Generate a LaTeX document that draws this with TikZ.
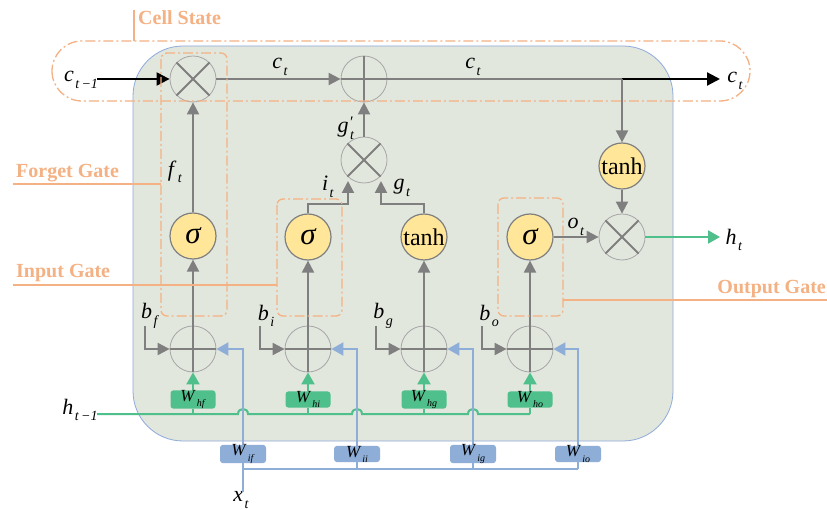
\documentclass[tikz,border=0pt]{standalone}
\usepackage{fontspec}
\setmainfont{Liberation Serif}
\usetikzlibrary{arrows.meta}
\definecolor{bgc}{HTML}{E2E7DE}
\definecolor{bgline}{HTML}{8EAADB}
\definecolor{org}{HTML}{F4B183}
\definecolor{gline}{HTML}{7F7F7F}
\definecolor{opc}{HTML}{A6A6A6}
\definecolor{grn}{HTML}{4FBF8B}
\definecolor{blu}{HTML}{8EAED8}
\definecolor{yel}{HTML}{FFE699}
\newcommand{\vv}[2]{\textit{#1}\kern1.5pt\raisebox{-0.3em}{\fontsize{14}{14}\selectfont\textit{#2}}}
\newcommand{\ww}[2]{\textit{#1}\kern1pt\raisebox{-0.3em}{\fontsize{10}{10}\selectfont\textit{#2}}}
\begin{document}
\begin{tikzpicture}[x=1pt,y=-1pt,
  op/.style={circle, draw=opc, line width=0.8pt, minimum size=46pt, inner sep=0pt},
  act/.style={circle, draw=gline, fill=yel, line width=1.2pt, minimum size=46pt, inner sep=0pt},
  crs/.style={draw=gline, line width=2pt},
  garr/.style={draw=gline, line width=2pt, -{Triangle[length=12pt,width=12pt]}},
  gln/.style={draw=gline, line width=2pt},
  karr/.style={draw=black, line width=2.2pt, -{Triangle[length=13pt,width=13pt]}},
  grarr/.style={draw=grn, line width=2pt, -{Triangle[length=12pt,width=13pt]}},
  grln/.style={draw=grn, line width=2pt},
  blarr/.style={draw=blu, line width=2pt, -{Triangle[length=12pt,width=13pt]}},
  blln/.style={draw=blu, line width=2pt},
  wh/.style={fill=grn, rounded corners=3pt, minimum width=45pt, minimum height=15pt, inner sep=0pt, font=\fontsize{17}{17}\selectfont},
  wi/.style={fill=blu, rounded corners=3pt, minimum width=46pt, minimum height=16pt, inner sep=0pt, font=\fontsize{17}{17}\selectfont},
  lbl/.style={inner sep=0pt, font=\fontsize{22}{22}\selectfont},
  gate/.style={draw=org, line width=1.3pt, dash pattern=on 10pt off 3pt on 2pt off 3pt, rounded corners=6pt},
  oline/.style={draw=org, line width=1.6pt},
  otext/.style={text=org, inner sep=0pt, font=\fontsize{20}{20}\selectfont\bfseries},
  sig/.style={act, font=\fontsize{31}{31}\selectfont\itshape},
  th/.style={act, font=\fontsize{24}{24}\selectfont}
]
\useasboundingbox (0,0) rectangle (827,510);
\fill[white] (0,0) rectangle (827,510);
% background cell
\draw[draw=bgline, fill=bgc, line width=0.8pt, rounded corners=50pt] (133,46) rectangle (673,441);

% operator circles
\node[op] (mf) at (193,79) {};
\node[op] (pc) at (364,79) {};
\node[op] (mg) at (364,160) {};
\node[th] (tc) at (622,166) {tanh};
\node[op] (mo) at (622,237) {};
\node[sig] (sf) at (193,236) {σ};
\node[sig] (si) at (308,237) {σ};
\node[th] (tg) at (424,237) {tanh};
\node[sig] (so) at (530,237) {σ};
\node[op] (pf) at (193,349) {};
\node[op] (pi) at (308,349) {};
\node[op] (pg) at (424,349) {};
\node[op] (po) at (530,349) {};
\foreach \n in {mf,mg,mo}{\draw[crs] (\n.45) -- (\n.225); \draw[crs] (\n.135) -- (\n.315);}
\foreach \n in {pc,pf,pi,pg,po}{\draw[crs] (\n.north) -- (\n.south); \draw[crs] (\n.west) -- (\n.east);}

% labels
\node[lbl] (cin) at (81,80) {\vv{c}{t\,−1}};
\node[lbl] (ct1) at (280,67) {\vv{c}{t}};
\node[lbl] (ct2) at (473,67) {\vv{c}{t}};
\node[lbl] (cout) at (735,81) {\vv{c}{t}};
\node[lbl] (gp) at (346,128) {\textit{g}\kern1.5pt\rlap{\raisebox{0.25em}{\fontsize{16}{16}\selectfont\symbol{"2032}}}\raisebox{-0.3em}{\fontsize{14}{14}\selectfont\textit{t}}};
\node[lbl] (il) at (328,187) {\vv{i}{t}};
\node[lbl] (gl) at (402,188) {\vv{g}{t}};
\node[lbl] (fl) at (175,172) {\vv{f}{t}};
\node[lbl] (ol) at (576,227) {\vv{o}{t}};
\node[lbl] (hout) at (734,240) {\vv{h}{t}};
\node[lbl] (hin) at (80,410) {\vv{h}{t\,−1}};
\node[lbl] (xl) at (241,500) {\vv{x}{t}};
\node[lbl] (bfl) at (150,316) {\vv{b}{f}};
\node[lbl] (bil) at (266,316) {\vv{b}{i}};
\node[lbl] (bgl) at (383,316) {\vv{b}{g}};
\node[lbl] (bol) at (489,316) {\vv{b}{o}};

% cell state line
\coordinate (cs) at (97,79);
\coordinate (br) at (622,79);
\coordinate (ce) at (720,79);
\draw[karr] (cs) -- (mf.west);
\draw[garr] (mf.east) -- (pc.west);
\draw[gln] (pc.east) -- (br);
\draw[karr] (br) -- (ce);
\draw[garr] (br) -- (tc.north);
\draw[garr] (tc.south) -- (mo.north);
\draw[grarr] (mo.east) -- (720,237);
\draw[garr] (so.east) -- (mo.west);
\draw[garr] (mg.north) -- (pc.south);
\draw[garr] (sf.north) -- (mf.south);
\draw[garr] (si.north) -- (308,204) -- (348,204) -- (348,181);
\draw[garr] (tg.north) -- (424,204) -- (381,204) -- (381,181);
\foreach \p/\s in {pf/sf,pi/si,pg/tg,po/so}{\draw[garr] (\p.north) -- (\s.south);}

% biases
\foreach \p/\x in {pf/145,pi/260,pg/376,po/482}{\draw[garr] (\x,326) -- (\x,349) -- (\p.west);}

% green h line
\coordinate (hs) at (97,414);
\draw[grln] (hs) -- (238,414) .. controls (238,407.3) and (248,407.3) .. (248,414)
  -- (352,414) .. controls (352,407.3) and (362,407.3) .. (362,414)
  -- (468,414) .. controls (468,407.3) and (478,407.3) .. (478,414) -- (530,414);
\node[wh] (whf) at (193,399.5) {\ww{W}{hf}};
\node[wh] (whi) at (308,399.5) {\ww{W}{hi}};
\node[wh] (whg) at (424,399.5) {\ww{W}{hg}};
\node[wh] (who) at (530,399.5) {\ww{W}{ho}};
\foreach \w/\p in {whf/pf,whi/pi,whg/pg,who/po}{
  \draw[grln] (\w.south) -- (\w.south |- hs);
  \draw[grarr] (\w.north) -- (\p.south);}

% blue x line
\coordinate (xb) at (243,469);
\coordinate (xe) at (578,469);
\draw[blln] (243,492) -- (xb) -- (xe);
\foreach \x/\p in {243/pf,357/pi,473/pg,578/po}{\draw[blarr] (\x,469) -- (\x,349) -- (\p.east);}
\node[wi] (wif) at (243,454) {\ww{W}{if}};
\node[wi] (wii) at (357,454) {\ww{W}{ii}};
\node[wi] (wig) at (473,454) {\ww{W}{ig}};
\node[wi] (wio) at (578,454) {\ww{W}{io}};

% gates
\draw[gate, rounded corners=30pt] (52,41) rectangle (750,101);
\draw[gate] (161,53) rectangle (227,316);
\draw[gate] (277,199) rectangle (342,316);
\draw[gate] (498,198) rectangle (563,316);
\draw[oline] (134,10) -- (134,41);
\draw[oline] (13,184) -- (161,184);
\draw[oline] (13,285) -- (277,285);
\draw[oline] (563,300) -- (827,300);
\node[otext, anchor=west] (tcs) at (138,18) {Cell State};
\node[otext, anchor=west] (tfg) at (16,173) {Forget Gate};
\node[otext, anchor=west] (tig) at (16,273) {Input Gate};
\node[otext, anchor=east] (tog) at (826,289) {Output Gate};
\end{tikzpicture}
\end{document}
